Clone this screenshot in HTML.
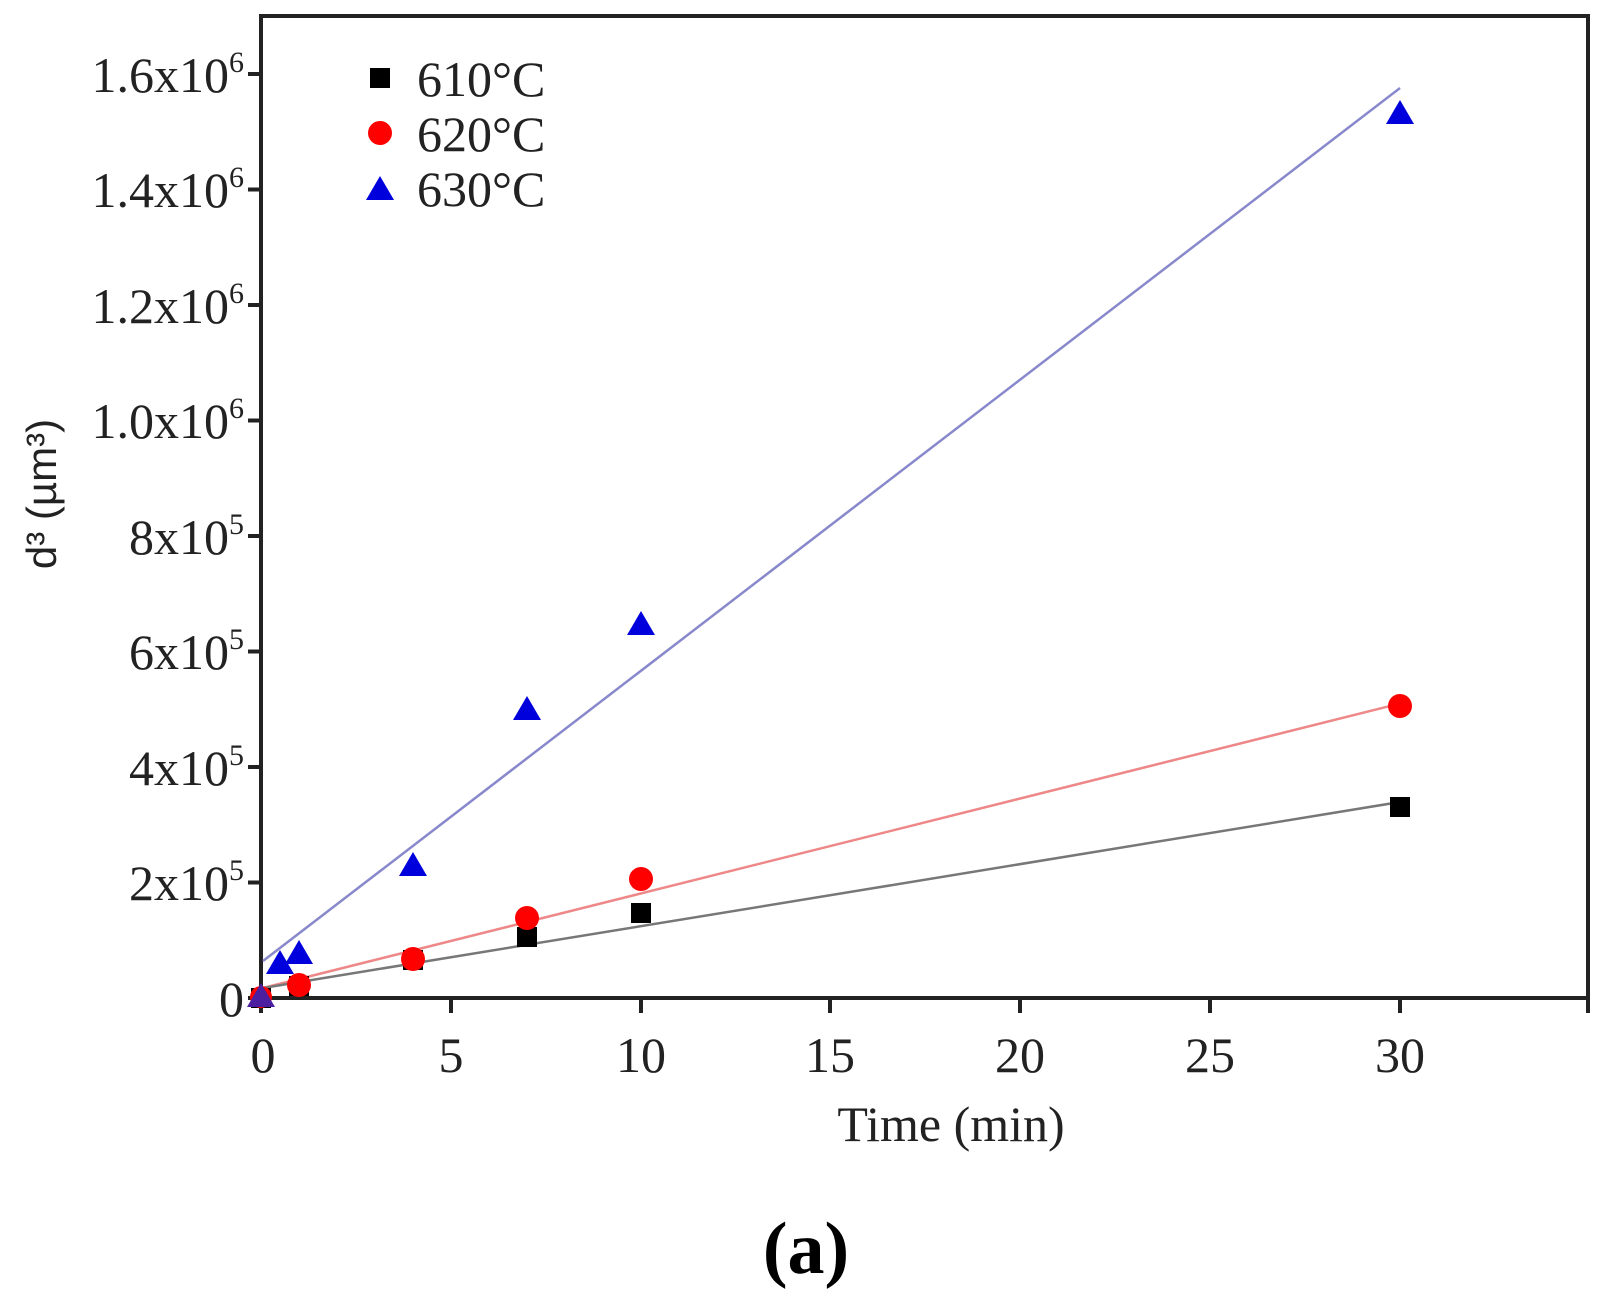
<!DOCTYPE html>
<html><head><meta charset="utf-8"><style>
html,body{margin:0;padding:0;background:#fff;}
svg{display:block;}
.t{font-family:"Liberation Serif",serif;fill:#222;}
</style></head><body>
<svg width="1611" height="1300" viewBox="0 0 1611 1300" xmlns="http://www.w3.org/2000/svg">
<rect width="1611" height="1300" fill="#fff"/>
<!-- plot frame -->
<rect x="261" y="16" width="1327" height="982" fill="none" stroke="#222" stroke-width="4"/>
<!-- y ticks -->
<g stroke="#222" stroke-width="4">
<line x1="248" y1="998" x2="261" y2="998"/>
<line x1="248" y1="882.5" x2="261" y2="882.5"/>
<line x1="248" y1="767" x2="261" y2="767"/>
<line x1="248" y1="651.5" x2="261" y2="651.5"/>
<line x1="248" y1="536" x2="261" y2="536"/>
<line x1="248" y1="420.5" x2="261" y2="420.5"/>
<line x1="248" y1="305" x2="261" y2="305"/>
<line x1="248" y1="189.5" x2="261" y2="189.5"/>
<line x1="248" y1="74" x2="261" y2="74"/>
<!-- x ticks -->
<line x1="261" y1="998" x2="261" y2="1013"/>
<line x1="451" y1="998" x2="451" y2="1013"/>
<line x1="641" y1="998" x2="641" y2="1013"/>
<line x1="830" y1="998" x2="830" y2="1013"/>
<line x1="1020" y1="998" x2="1020" y2="1013"/>
<line x1="1210" y1="998" x2="1210" y2="1013"/>
<line x1="1400" y1="998" x2="1400" y2="1013"/>
<line x1="1588" y1="998" x2="1588" y2="1013"/>
</g>
<!-- y labels -->
<g class="t" font-size="50" text-anchor="end">
<text x="244" y="1016">0</text>
<text x="244" y="900">2x10<tspan font-size="30" dy="-20">5</tspan></text>
<text x="244" y="785">4x10<tspan font-size="30" dy="-20">5</tspan></text>
<text x="244" y="669">6x10<tspan font-size="30" dy="-20">5</tspan></text>
<text x="244" y="554">8x10<tspan font-size="30" dy="-20">5</tspan></text>
<text x="244" y="438">1.0x10<tspan font-size="30" dy="-20">6</tspan></text>
<text x="244" y="323">1.2x10<tspan font-size="30" dy="-20">6</tspan></text>
<text x="244" y="207">1.4x10<tspan font-size="30" dy="-20">6</tspan></text>
<text x="244" y="92">1.6x10<tspan font-size="30" dy="-20">6</tspan></text>
</g>
<!-- x labels -->
<g class="t" font-size="50" text-anchor="middle">
<text x="263" y="1072">0</text>
<text x="451" y="1072">5</text>
<text x="641" y="1072">10</text>
<text x="830" y="1072">15</text>
<text x="1020" y="1072">20</text>
<text x="1210" y="1072">25</text>
<text x="1400" y="1072">30</text>
<text x="951" y="1141">Time (min)</text>
</g>
<text x="45" y="494" transform="rotate(-90 45 494)" text-anchor="middle" dominant-baseline="middle" font-family="Liberation Sans, sans-serif" font-size="42" fill="#222">d³ (µm³)</text>
<text x="806" y="1273" text-anchor="middle" font-family="Liberation Serif, serif" font-weight="bold" font-size="74" fill="#000">(a)</text>
<!-- fit lines -->
<line x1="263" y1="961" x2="1400" y2="88" stroke="#8888cc" stroke-width="2.5"/>
<line x1="263" y1="988" x2="1400" y2="703.5" stroke="#ee8888" stroke-width="2.5"/>
<line x1="263" y1="988" x2="1400" y2="802" stroke="#777" stroke-width="2.5"/>
<!-- black squares -->
<g fill="#000">
<rect x="251" y="988" width="20" height="20"/>
<rect x="289" y="976" width="20" height="20"/>
<rect x="403" y="950" width="20" height="20"/>
<rect x="517" y="927" width="20" height="20"/>
<rect x="631" y="903" width="20" height="20"/>
<rect x="1390" y="797" width="20" height="20"/>
</g>
<!-- red circles -->
<g fill="#ff0000">
<circle cx="261" cy="997" r="11"/>
<circle cx="299" cy="985" r="12"/>
<circle cx="413" cy="959" r="12"/>
<circle cx="527" cy="918" r="12"/>
<circle cx="641" cy="879" r="12"/>
<circle cx="1400" cy="706" r="12"/>
</g>
<!-- blue triangles -->
<g fill="#0000dd">
<polygon points="261,983 275,1007 247,1007" fill="#4b1fa0"/>
<polygon points="280,950 294,974 266,974"/>
<polygon points="299,940 313,964 285,964"/>
<polygon points="413,852 427,876 399,876"/>
<polygon points="527,696 541,720 513,720"/>
<polygon points="641,611 655,635 627,635"/>
<polygon points="1400,100 1414,124 1386,124"/>
</g>
<!-- legend -->
<rect x="370" y="68" width="20" height="20" fill="#000"/>
<circle cx="380" cy="133" r="12" fill="#ff0000"/>
<polygon points="380,176 394,200 366,200" fill="#0000dd"/>
<g class="t" font-size="50">
<text x="417" y="96">610°C</text>
<text x="417" y="151">620°C</text>
<text x="417" y="206">630°C</text>
</g>
</svg>
</body></html>
